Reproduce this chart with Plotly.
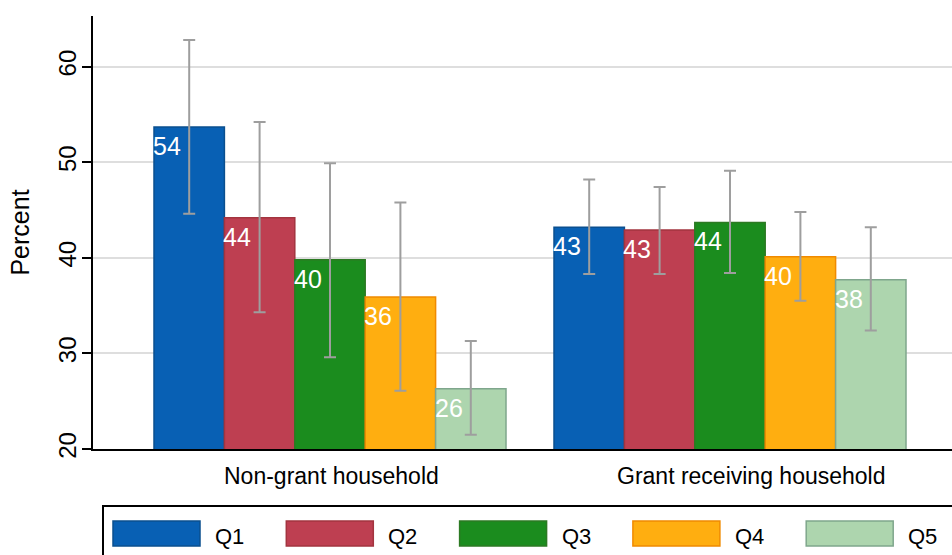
import plotly.graph_objects as go

# ---------------- data ----------------
groups = ["Non-grant household", "Grant receiving household"]
quintiles = ["Q1", "Q2", "Q3", "Q4", "Q5"]
values = {
    "Q1": [53.7, 43.2],
    "Q2": [44.2, 42.9],
    "Q3": [39.8, 43.7],
    "Q4": [35.9, 40.1],
    "Q5": [26.3, 37.7],
}
ci_low = {
    "Q1": [44.6, 38.3],
    "Q2": [34.3, 38.3],
    "Q3": [29.6, 38.4],
    "Q4": [26.1, 35.5],
    "Q5": [21.5, 32.4],
}
ci_high = {
    "Q1": [62.8, 48.2],
    "Q2": [54.2, 47.4],
    "Q3": [49.9, 49.1],
    "Q4": [45.8, 44.8],
    "Q5": [31.3, 43.2],
}
labels = {
    "Q1": ["54", "43"],
    "Q2": ["44", "43"],
    "Q3": ["40", "44"],
    "Q4": ["36", "40"],
    "Q5": ["26", "38"],
}
y_ticks = [20, 30, 40, 50, 60]

# ---------------- styles ----------------
fills = {"Q1": "#0860b4", "Q2": "#be3f51", "Q3": "#1b8c1e", "Q4": "#ffae10", "Q5": "#add5ae"}
edges = {"Q1": "#0a4f8f", "Q2": "#a3343f", "Q3": "#2c7a23", "Q4": "#f08a00", "Q5": "#7fa68c"}
group_label_shift = [1, 21]  # px horizontal shift of category labels
FONT = "Helvetica, Arial, 'Liberation Sans', sans-serif"

W, H = 952, 555
ML, MR, MT, MB = 93, 0, 16, 106
BARGAP = 0.12
n = len(quintiles)
bar_w = (1 - BARGAP) / n

fig = go.Figure()
for qi, q in enumerate(quintiles):
    fig.add_trace(go.Bar(
        x=list(range(len(groups))),
        y=values[q],
        name=q,
        marker=dict(color=fills[q], line=dict(color=edges[q], width=1.5)),
        error_y=dict(
            type="data", symmetric=False,
            array=[h - v for h, v in zip(ci_high[q], values[q])],
            arrayminus=[v - l for v, l in zip(values[q], ci_low[q])],
            color="#9e9e9e", thickness=2, width=6,
        ),
        showlegend=False,
    ))
    # value labels at top-left inside each bar
    for gi in range(len(groups)):
        fig.add_annotation(
            x=gi + (qi - (n - 1) / 2) * bar_w - bar_w / 2,
            y=values[q][gi],
            xref="x", yref="y",
            text=labels[q][gi], showarrow=False,
            xanchor="left", yanchor="top", xshift=-3, yshift=-3,
            font=dict(family=FONT, size=25, color="white"),
        )

# category labels
for gi, g in enumerate(groups):
    fig.add_annotation(
        x=gi, y=0, xref="x", yref="paper",
        text=g, showarrow=False, xanchor="center", yanchor="top",
        xshift=group_label_shift[gi], yshift=-12,
        font=dict(family=FONT, size=23, color="black"),
    )

plot_w = W - ML - MR
plot_h = H - MT - MB

def px_x(p):
    return (p - ML) / plot_w

def px_y(p):
    return (H - MB - p) / plot_h

shapes = [
    dict(type="rect", xref="paper", yref="paper",
         x0=px_x(103), x1=px_x(1000), y0=px_y(600), y1=px_y(506),
         line=dict(color="black", width=2), fillcolor="rgba(0,0,0,0)", layer="above"),
]
for qi, q in enumerate(quintiles):
    x0 = 113 + qi * 173.3
    shapes.append(dict(type="rect", xref="paper", yref="paper",
                       x0=px_x(x0), x1=px_x(x0 + 87), y0=px_y(546), y1=px_y(521),
                       fillcolor=fills[q], line=dict(color=edges[q], width=1.5)))
    fig.add_annotation(xref="paper", yref="paper", x=px_x(x0 + 100), y=px_y(536),
                       text=q, showarrow=False, xanchor="left", yanchor="middle",
                       font=dict(family=FONT, size=22, color="black"))

fig.update_layout(
    width=W, height=H,
    margin=dict(l=ML, r=MR, t=MT, b=MB, pad=0),
    paper_bgcolor="white", plot_bgcolor="white",
    barmode="group", bargap=BARGAP, bargroupgap=0,
    font=dict(family=FONT, color="black"),
    showlegend=False,
    shapes=shapes,
)

fig.update_xaxes(
    range=[-0.5925, 1.555],
    showticklabels=False, ticks="",
    showline=True, linecolor="black", linewidth=2,
    showgrid=False, zeroline=False,
)
fig.update_yaxes(
    range=[20, 65.3],
    tickmode="array", tickvals=y_ticks,
    tickangle=-90,
    tickfont=dict(family=FONT, size=24, color="black"),
    ticks="outside", ticklen=9, tickwidth=1.5, tickcolor="black",
    ticklabelstandoff=-4,
    showline=True, linecolor="black", linewidth=2,
    showgrid=True, gridcolor="#dedede", gridwidth=1.5,
    zeroline=False,
    title=dict(text="Percent", font=dict(family=FONT, size=25, color="black"), standoff=18),
)

fig.write_html("out.html", config={"displayModeBar": False},
               post_script="document.body.style.margin='0px';document.body.style.overflow='hidden';")
